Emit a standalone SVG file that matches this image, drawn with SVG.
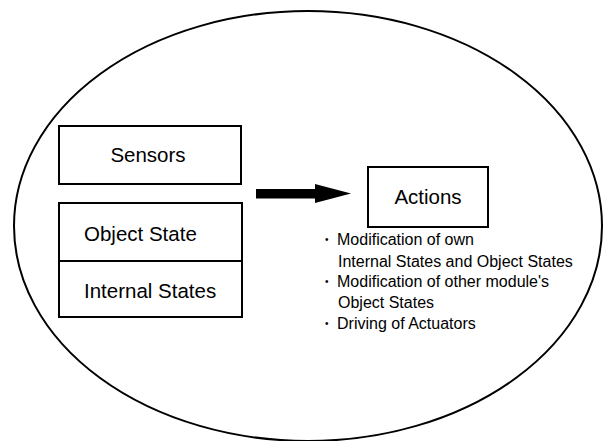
<svg xmlns="http://www.w3.org/2000/svg" width="605" height="441" viewBox="0 0 605 441">
<style>
.box{fill:#fff;stroke:#000;stroke-width:2}
.lbl{font-family:"Liberation Sans",Arial,sans-serif;font-size:20.5px;fill:#000}
.lst{font-family:"Liberation Sans",Arial,sans-serif;font-size:16px;fill:#000}
.bul{font-family:"Liberation Sans",Arial,sans-serif;font-size:10px;fill:#000}
</style>
<rect width="605" height="441" fill="#fff"/>
<g id="boundary">
<ellipse cx="308" cy="226" rx="294" ry="215" fill="none" stroke="#000" stroke-width="2"/>
</g>
<g id="sensors">
<rect class="box" x="59" y="126" width="182" height="58"/>
<text class="lbl" x="148" y="162" text-anchor="middle">Sensors</text>
</g>
<g id="object-state">
<rect class="box" x="59" y="203" width="183" height="58"/>
<text class="lbl" x="84" y="241">Object State</text>
</g>
<g id="internal-states">
<rect class="box" x="59" y="261" width="183" height="56"/>
<text class="lbl" x="84" y="298">Internal States</text>
</g>
<g id="actions">
<rect class="box" x="368" y="167" width="120" height="60"/>
<text class="lbl" x="428" y="204" text-anchor="middle">Actions</text>
</g>
<g id="action-list">
<text class="bul" x="325" y="243">•</text>
<text class="lst" x="337" y="245">Modification of own</text>
<text class="lst" x="338" y="267">Internal States and Object States</text>
<text class="bul" x="325" y="285">•</text>
<text class="lst" x="337" y="287">Modification of other module's</text>
<text class="lst" x="338" y="308">Object States</text>
<text class="bul" x="325" y="327">•</text>
<text class="lst" x="337" y="329">Driving of Actuators</text>
</g>
<g id="connectors">
<polygon points="256,189 315,189 315,184 351,193.5 315,203 315,198.5 256,198.5" fill="#000"/>
</g>
</svg>
